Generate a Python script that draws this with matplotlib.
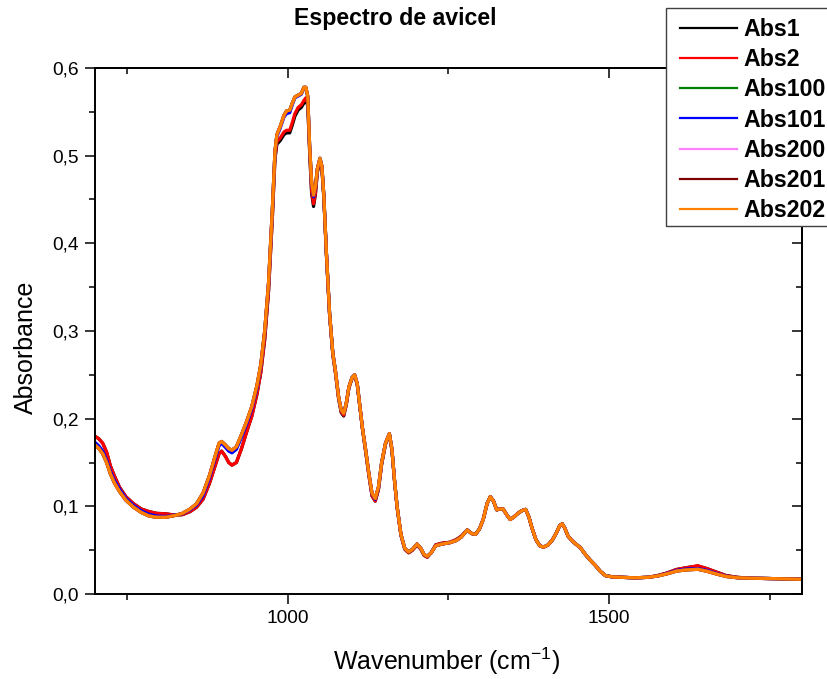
import numpy as np
import matplotlib
matplotlib.use("Agg")
import matplotlib.pyplot as plt
from matplotlib.ticker import MultipleLocator, FuncFormatter
from matplotlib.patches import Rectangle

plt.rcParams['font.family'] = ['Liberation Sans', 'DejaVu Sans']
plt.rcParams['mathtext.fontset'] = 'custom'
plt.rcParams['mathtext.rm'] = 'Liberation Sans'
plt.rcParams['mathtext.default'] = 'regular'

# wavenumber axis (cm-1)
wn = [700, 706, 712, 718, 724, 730, 738, 748, 760, 772,
      784, 796, 810, 824, 836, 848, 858, 868, 878, 886,
      893, 897, 903, 908, 913, 920, 928, 936, 944, 952,
      958, 964, 970, 976, 980, 983, 988, 994, 998, 1003,
      1007, 1011, 1016, 1021, 1025, 1028, 1031, 1034, 1037, 1040,
      1043, 1046, 1050, 1053, 1056, 1060, 1065, 1070, 1074, 1079,
      1083, 1087, 1091, 1095, 1100, 1104, 1108, 1112, 1116, 1121,
      1126, 1131, 1136, 1141, 1146, 1152, 1158, 1162, 1166, 1170,
      1176, 1182, 1188, 1194, 1201, 1207, 1212, 1217, 1223, 1230,
      1240, 1252, 1262, 1270, 1279, 1286, 1292, 1298, 1304, 1310,
      1315, 1320, 1325, 1330, 1335, 1340, 1346, 1352, 1358, 1364,
      1370, 1375, 1380, 1386, 1392, 1398, 1405, 1412, 1418, 1423,
      1427, 1431, 1436, 1442, 1448, 1455, 1462, 1470, 1478, 1486,
      1494, 1505, 1520, 1540, 1560, 1575, 1590, 1605, 1620, 1638,
      1652, 1667, 1682, 1700, 1720, 1740, 1760, 1780, 1800]

abs1 = [0.180, 0.177, 0.172, 0.162, 0.146, 0.135, 0.122, 0.111, 0.103, 0.097,
        0.094, 0.092, 0.0915, 0.090, 0.0905, 0.094, 0.099, 0.108, 0.126, 0.144,
        0.160, 0.163, 0.157, 0.150, 0.147, 0.150, 0.166, 0.185, 0.203, 0.228,
        0.253, 0.290, 0.345, 0.430, 0.496, 0.513, 0.517, 0.524, 0.526, 0.526,
        0.535, 0.545, 0.552, 0.555, 0.560, 0.563, 0.557, 0.503, 0.457, 0.442,
        0.456, 0.481, 0.494, 0.485, 0.452, 0.387, 0.318, 0.273, 0.253, 0.223,
        0.207, 0.203, 0.216, 0.235, 0.246, 0.249, 0.239, 0.214, 0.189, 0.163,
        0.136, 0.112, 0.106, 0.119, 0.148, 0.171, 0.182, 0.164, 0.129, 0.099,
        0.067, 0.051, 0.047, 0.050, 0.056, 0.051, 0.044, 0.042, 0.047, 0.056,
        0.058, 0.059, 0.062, 0.066, 0.073, 0.069, 0.068, 0.074, 0.085, 0.103,
        0.111, 0.106, 0.096, 0.097, 0.097, 0.091, 0.085, 0.088, 0.092, 0.095,
        0.0965, 0.088, 0.075, 0.062, 0.055, 0.0535, 0.056, 0.062, 0.070, 0.078,
        0.080, 0.075, 0.066, 0.061, 0.057, 0.053, 0.046, 0.039, 0.033, 0.026,
        0.021, 0.0195, 0.019, 0.0185, 0.019, 0.021, 0.024, 0.028, 0.030, 0.032,
        0.029, 0.025, 0.021, 0.019, 0.018, 0.0178, 0.0175, 0.0172, 0.0168]

abs2 = [0.180, 0.177, 0.172, 0.162, 0.146, 0.135, 0.122, 0.111, 0.103, 0.097,
        0.094, 0.092, 0.0915, 0.090, 0.0905, 0.094, 0.099, 0.108, 0.126, 0.144,
        0.160, 0.163, 0.157, 0.150, 0.147, 0.150, 0.166, 0.185, 0.203, 0.228,
        0.253, 0.290, 0.345, 0.430, 0.498, 0.516, 0.520, 0.527, 0.529, 0.529,
        0.538, 0.548, 0.555, 0.558, 0.563, 0.566, 0.560, 0.505, 0.460, 0.445,
        0.458, 0.482, 0.495, 0.486, 0.453, 0.388, 0.318, 0.273, 0.253, 0.223,
        0.208, 0.204, 0.216, 0.235, 0.246, 0.249, 0.239, 0.214, 0.189, 0.163,
        0.136, 0.112, 0.106, 0.119, 0.148, 0.171, 0.182, 0.164, 0.129, 0.099,
        0.067, 0.051, 0.047, 0.050, 0.056, 0.051, 0.044, 0.042, 0.047, 0.056,
        0.058, 0.059, 0.062, 0.066, 0.073, 0.069, 0.068, 0.074, 0.085, 0.103,
        0.111, 0.106, 0.096, 0.097, 0.097, 0.091, 0.085, 0.088, 0.092, 0.095,
        0.0965, 0.088, 0.075, 0.062, 0.055, 0.0535, 0.056, 0.062, 0.070, 0.078,
        0.080, 0.075, 0.066, 0.061, 0.057, 0.053, 0.046, 0.039, 0.033, 0.026,
        0.021, 0.0195, 0.019, 0.0185, 0.019, 0.021, 0.024, 0.028, 0.030, 0.0322,
        0.029, 0.025, 0.021, 0.019, 0.018, 0.0178, 0.0175, 0.0172, 0.0168]

abs101 = [0.173, 0.169, 0.163, 0.153, 0.140, 0.130, 0.120, 0.109, 0.101, 0.095,
          0.091, 0.089, 0.0885, 0.090, 0.0915, 0.096, 0.1015, 0.112, 0.132, 0.152,
          0.169, 0.172, 0.167, 0.163, 0.161, 0.165, 0.179, 0.194, 0.211, 0.235,
          0.260, 0.298, 0.353, 0.438, 0.503, 0.522, 0.531, 0.544, 0.548, 0.549,
          0.558, 0.566, 0.568, 0.570, 0.577, 0.577, 0.567, 0.509, 0.468, 0.453,
          0.464, 0.485, 0.497, 0.488, 0.455, 0.390, 0.320, 0.275, 0.255, 0.225,
          0.210, 0.206, 0.218, 0.236, 0.247, 0.250, 0.240, 0.215, 0.190, 0.165,
          0.138, 0.114, 0.108, 0.121, 0.150, 0.172, 0.183, 0.165, 0.130, 0.100,
          0.068, 0.052, 0.048, 0.051, 0.057, 0.052, 0.045, 0.043, 0.047, 0.055,
          0.057, 0.0585, 0.061, 0.065, 0.073, 0.069, 0.068, 0.074, 0.085, 0.103,
          0.111, 0.106, 0.096, 0.097, 0.097, 0.091, 0.085, 0.088, 0.092, 0.095,
          0.0965, 0.088, 0.075, 0.062, 0.055, 0.0535, 0.056, 0.062, 0.070, 0.078,
          0.080, 0.075, 0.066, 0.061, 0.057, 0.053, 0.046, 0.039, 0.033, 0.026,
          0.021, 0.0195, 0.019, 0.0185, 0.019, 0.0205, 0.0235, 0.027, 0.0285, 0.029,
          0.027, 0.0235, 0.0205, 0.0185, 0.018, 0.0178, 0.0175, 0.0172, 0.0168]

abs202 = [0.170, 0.166, 0.160, 0.150, 0.137, 0.127, 0.117, 0.107, 0.099, 0.093,
          0.089, 0.0875, 0.0875, 0.0895, 0.092, 0.097, 0.103, 0.115, 0.135, 0.155,
          0.172, 0.174, 0.170, 0.166, 0.164, 0.168, 0.182, 0.197, 0.214, 0.238,
          0.262, 0.300, 0.355, 0.440, 0.505, 0.524, 0.533, 0.546, 0.551, 0.552,
          0.560, 0.567, 0.569, 0.571, 0.578, 0.578, 0.568, 0.510, 0.470, 0.455,
          0.465, 0.485, 0.497, 0.488, 0.455, 0.390, 0.320, 0.275, 0.255, 0.225,
          0.210, 0.206, 0.218, 0.236, 0.247, 0.250, 0.240, 0.215, 0.190, 0.165,
          0.138, 0.115, 0.109, 0.122, 0.150, 0.172, 0.183, 0.165, 0.130, 0.100,
          0.068, 0.052, 0.048, 0.051, 0.057, 0.052, 0.045, 0.043, 0.047, 0.055,
          0.057, 0.0585, 0.061, 0.065, 0.073, 0.069, 0.068, 0.074, 0.085, 0.103,
          0.111, 0.106, 0.096, 0.097, 0.097, 0.091, 0.085, 0.088, 0.092, 0.095,
          0.0965, 0.088, 0.075, 0.062, 0.055, 0.0535, 0.056, 0.062, 0.070, 0.078,
          0.080, 0.075, 0.066, 0.061, 0.057, 0.053, 0.046, 0.039, 0.033, 0.026,
          0.021, 0.0195, 0.019, 0.0185, 0.019, 0.0205, 0.023, 0.0262, 0.0275, 0.0282,
          0.026, 0.0228, 0.020, 0.0185, 0.018, 0.0178, 0.0175, 0.0172, 0.0168]

# these three sit right under Abs202 in the picture
abs100 = list(abs202)
abs200 = list(abs202)
abs201 = list(abs202)

labels = ["Abs1", "Abs2", "Abs100", "Abs101", "Abs200", "Abs201", "Abs202"]
series = [abs1, abs2, abs100, abs101, abs200, abs201, abs202]
colors = ["#000000", "#ff0000", "#008000", "#0000ff", "#ff80ff", "#800000", "#ff8000"]

W, H = 828, 679
fig = plt.figure(figsize=(W / 100, H / 100), dpi=100)
ax = fig.add_axes([95 / W, 1 - 594 / H, 707 / W, 526 / H])

lines = []
for y, c, lab in zip(series, colors, labels):
    ln, = ax.plot(wn, y, color=c, lw=2.3, label=lab, solid_joinstyle='round')
    lines.append(ln)

ax.set_xlim(700, 1800)
ax.set_ylim(0, 0.6)
ax.xaxis.set_major_locator(MultipleLocator(500))
ax.xaxis.set_minor_locator(MultipleLocator(250))
ax.yaxis.set_major_locator(MultipleLocator(0.1))
ax.yaxis.set_minor_locator(MultipleLocator(0.05))
ax.yaxis.set_major_formatter(FuncFormatter(lambda v, p: f"{v:.1f}".replace(".", ",")))
ax.tick_params(which='both', direction='out', width=1.1, labelsize=13.8, pad=4)
ax.tick_params(which='major', length=7.5)
ax.tick_params(which='minor', length=4)
for s in ax.spines.values():
    s.set_linewidth(1.4)

# mirrored ticks on top/right pointing inward
top = ax.secondary_xaxis('top')
top.xaxis.set_major_locator(MultipleLocator(500))
top.xaxis.set_minor_locator(MultipleLocator(250))
top.tick_params(which='both', direction='in', width=1.1, labeltop=False)
top.tick_params(which='major', length=7.5)
top.tick_params(which='minor', length=4)
right = ax.secondary_yaxis('right')
right.yaxis.set_major_locator(MultipleLocator(0.1))
right.yaxis.set_minor_locator(MultipleLocator(0.05))
right.tick_params(which='both', direction='in', width=1.1, labelright=False)
right.tick_params(which='major', length=7.5)
right.tick_params(which='minor', length=4)
for sec in (top, right):
    for s in sec.spines.values():
        s.set_linewidth(1.4)

fig.text(395 / W, 1 - 24.7 / H, "Espectro de avicel", ha='center', va='baseline',
         fontsize=16.7, fontweight='bold')
fig.text(447 / W, 1 - 670 / H, "Wavenumber (cm$^{-1}$)", ha='center', va='baseline',
         fontsize=18)
fig.text(32.7 / W, 1 - 347.5 / H, "Absorbance", ha='center', va='baseline',
         rotation=90, rotation_mode='anchor', fontsize=18)

# legend box (runs past the right edge of the figure)
box = Rectangle((665.7 / W, 1 - 225.7 / H), (840 - 665.7) / W, (225.7 - 8) / H,
                transform=fig.transFigure, facecolor='white', edgecolor='#404040',
                lw=1.0, zorder=3)
fig.add_artist(box)
leg = fig.legend(lines, labels, loc='upper left', bbox_to_anchor=(680 / W, 1 - 18 / H),
                 bbox_transform=fig.transFigure, frameon=False, borderpad=0,
                 borderaxespad=0, handlelength=2.46, handletextpad=0.28,
                 labelspacing=0.31, prop=dict(weight='bold', size=16.7))
leg.set_zorder(4)
for h in leg.get_lines():
    h.set_linewidth(1.6)

fig.savefig("out.png", dpi=100)
